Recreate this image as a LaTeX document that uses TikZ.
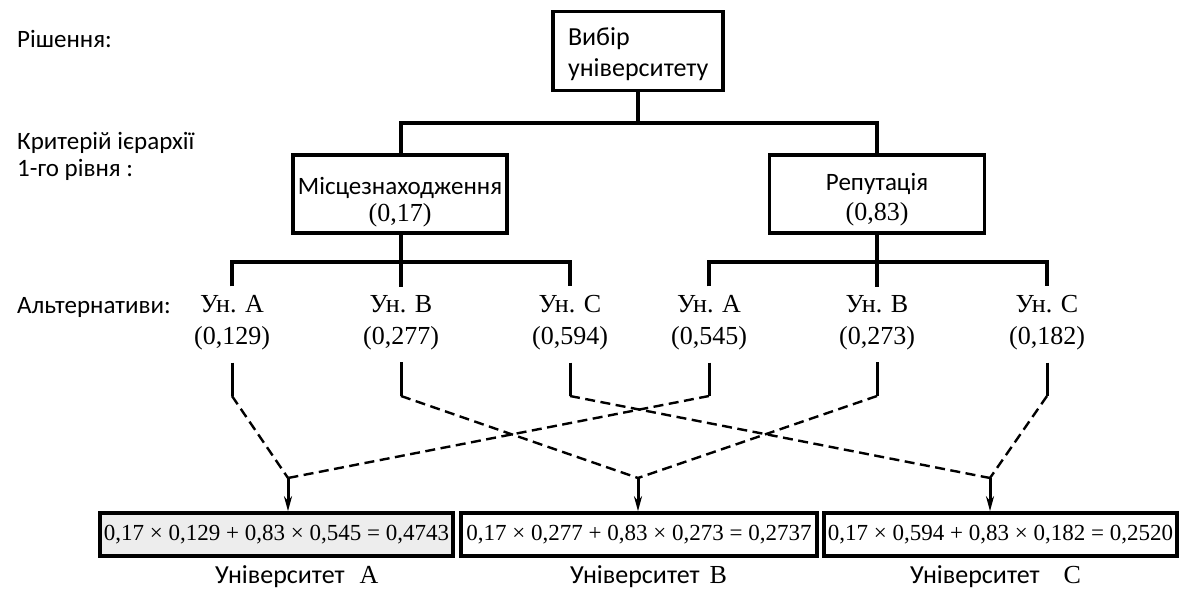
\documentclass[tikz,border=0pt]{standalone}
\usepackage{fontspec}
\setmainfont{Liberation Serif}
\newfontfamily\calib{Carlito}
\usetikzlibrary{arrows.meta}
\begin{document}
\begin{tikzpicture}[x=1pt,y=-1pt,
  box/.style={draw, line width=3.6pt, inner sep=0pt},
  tree/.style={line width=3.4pt},
  low/.style={line width=3pt},
  dsh/.style={line width=2.4pt, dash pattern=on 10pt off 5.5pt},
  sans/.style={font=\calib\fontsize{25}{27}\selectfont},
  alt/.style={font=\fontsize{26}{32}\selectfont, align=center, inner sep=0pt},
  res/.style={box, font=\fontsize{23}{27}\selectfont, minimum height=43pt},
  arr/.style={line width=3pt, -{Stealth[length=15pt,width=8pt]}}]
\useasboundingbox (0,0) rectangle (1179,592);

% left labels
\node[sans, anchor=base west, inner sep=0pt] (lblD) at (17,47) {Рішення:};
\node[sans, anchor=base west, align=left, inner sep=0pt] (lblK) at (17,176) {Критерій ієрархії\\1-го рівня :};
\node[sans, anchor=base west, inner sep=0pt] (lblA) at (17,313) {Альтернативи:};

% top box
\node[box, font=\calib\fontsize{26}{31}\selectfont, minimum width=170pt, minimum height=79pt, text width=140pt, inner xsep=15pt, align=left] (top) at (638,51) {\rule{0pt}{24pt}Вибір\\університету};

% criteria
\node[box, font=\fontsize{26}{27}\selectfont, minimum width=214pt, minimum height=78pt, align=center] (loc) at (400,194)
  {\rule{0pt}{33.6pt}{\calib\fontsize{25}{27}\selectfont Місцезнаходження}\\(0,17)};
\node[box, font=\fontsize{26}{30}\selectfont, minimum width=215pt, minimum height=78pt, align=center] (rep) at (877,194)
  {\rule{0pt}{28pt}{\calib\fontsize{25}{27}\selectfont Репутація}\\(0,83)};

\coordinate (j0) at (638,123);
\draw[tree] (top.south) -- (j0);
\draw[tree] (loc.north -| 401,0) -- (401,123 |- j0) -- (rep.north |- j0) -- (rep.north);

% alternatives
\node[alt] (a1) at (232,323) {Ун. A\\(0,129)};
\node[alt] (a2) at (401,323) {Ун. B\\(0,277)};
\node[alt] (a3) at (570,323) {Ун. C\\(0,594)};
\node[alt] (a4) at (709,323) {Ун. A\\(0,545)};
\node[alt] (a5) at (877,323) {Ун. B\\(0,273)};
\node[alt] (a6) at (1047,323) {Ун. C\\(0,182)};

\coordinate (jl) at (401,262);
\coordinate (jr) at (877,262);
\draw[tree] (loc.south -| jl) -- (jl);
\draw[tree] (rep.south) -- (jr);
\draw[tree] ([yshift=9pt]a1.north) -- (a1.north |- jl) -- (a3.north |- jl) -- ([yshift=9pt]a3.north);
\draw[tree] ([yshift=9pt]a2.north) -- (jl);
\draw[tree] ([yshift=9pt]a4.north) -- (a4.north |- jr) -- (a6.north |- jr) -- ([yshift=9pt]a6.north);
\draw[tree] ([yshift=9pt]a5.north) -- (jr);

% results
\node[res, fill=gray!14, minimum width=353pt] (rA) at (276.5,534.5) {0,17 × 0,129 + 0,83 × 0,545 = 0,4743};
\node[res, minimum width=356pt] (rB) at (639,534.5) {0,17 × 0,277 + 0,83 × 0,273 = 0,2737};
\node[res, minimum width=353pt] (rC) at (1000.5,534.5) {0,17 × 0,594 + 0,83 × 0,182 = 0,2520};

\node[inner sep=0pt, anchor=base west] (uA) at (215,583) {{\calib\fontsize{26}{28}\selectfont Університет}\hspace{15pt}{\fontsize{26}{28}\selectfont A}};
\node[inner sep=0pt, anchor=base west] (uB) at (570,583) {{\calib\fontsize{26}{28}\selectfont Університет}\hspace{10pt}{\fontsize{26}{28}\selectfont B}};
\node[inner sep=0pt, anchor=base west] (uC) at (910,583) {{\calib\fontsize{26}{28}\selectfont Університет}\hspace{24pt}{\fontsize{26}{28}\selectfont C}};

% merge points
\coordinate (m1) at (288,478);
\coordinate (m2) at (638,478);
\coordinate (m3) at (990,478);
\coordinate (k1) at (232,396);
\coordinate (k2) at (401,396);
\coordinate (k3) at (570,396);
\coordinate (k4) at (709,396);
\coordinate (k5) at (877,396);
\coordinate (k6) at (1047,396);

\foreach \i in {1,...,6}{
  \draw[low] ([yshift=-12pt]a\i.south) -- (k\i);
}
\draw[dsh] (k1) -- (m1);
\draw[dsh] (k4) -- (m1);
\draw[dsh] (k2) -- (m2);
\draw[dsh] (k5) -- (m2);
\draw[dsh] (k3) -- (m3);
\draw[dsh] (k6) -- (m3);

\draw[arr] (m1) -- (m1 |- rA.north);
\draw[arr] (m2) -- (m2 |- rB.north);
\draw[arr] (m3) -- (m3 |- rC.north);
\end{tikzpicture}
\end{document}
